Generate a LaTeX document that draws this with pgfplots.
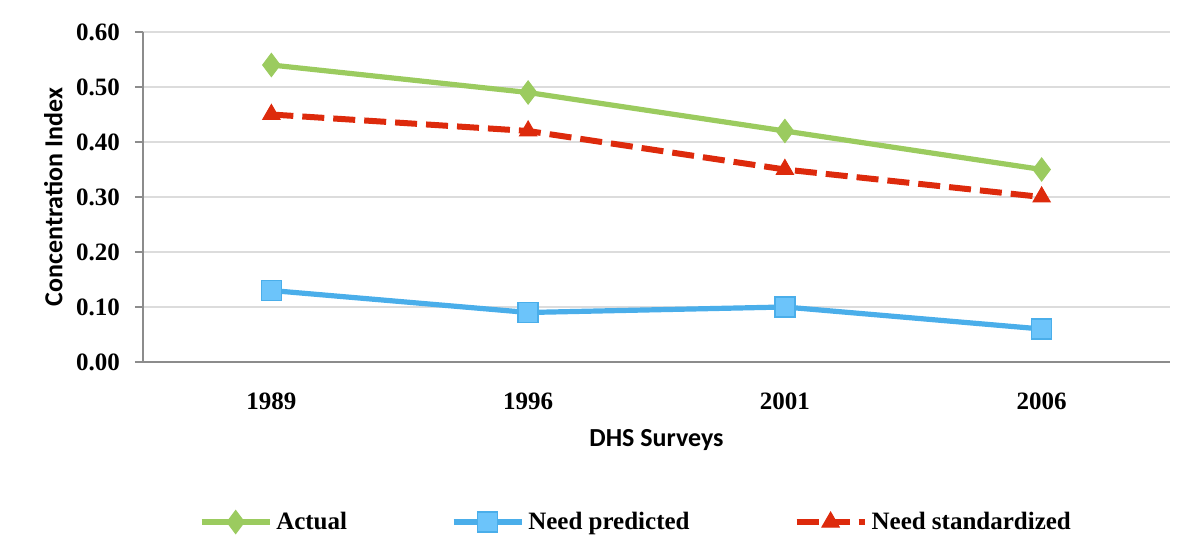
\documentclass[border=0pt]{standalone}
\usepackage{pgfplots}
\pgfplotsset{compat=1.18}
\usepackage{fontspec}
\setmainfont{Liberation Serif}
\newfontfamily\labfont{Carlito}
\definecolor{cgreen}{HTML}{9BCB5F}
\definecolor{cblue}{HTML}{4AAEEA}
\definecolor{cbluefill}{HTML}{6CC4FA}
\definecolor{cred}{HTML}{DD2A0C}
\definecolor{caxis}{HTML}{8C8C8C}
\definecolor{cgrid}{HTML}{DCDCDC}
\begin{document}
\begin{tikzpicture}
\begin{axis}[
  width=513.5pt, height=165pt, scale only axis,
  xmin=-0.5, xmax=3.5, ymin=0, ymax=0.6,
  xtick={0,1,2,3}, xticklabels={1989,1996,2001,2006},
  ytick={0,0.1,0.2,0.3,0.4,0.5,0.6},
  yticklabel style={/pgf/number format/fixed, /pgf/number format/fixed zerofill, /pgf/number format/precision=2, xshift=-4pt},
  /pgf/number format/assume math mode=true,
  ticklabel style={font=\fontsize{12.5}{14}\selectfont\bfseries},
  axis x line*=bottom, axis y line*=left,
  axis line style={caxis, line width=1.2pt, -},
  xtick style={draw=none},
  ytick style={caxis, line width=0.8pt},
  tick align=outside, major tick length=4pt,
  ymajorgrids, grid style={cgrid, line width=0.8pt},
  xticklabel style={yshift=-8pt},
  xlabel={\labfont\bfseries DHS Surveys},
  ylabel={\labfont\bfseries Concentration Index},
  xlabel style={font=\fontsize{13}{15}\selectfont, yshift=-3pt},
  ylabel style={font=\fontsize{13}{15}\selectfont, yshift=0pt},
  legend style={at={(0.481,-0.485)}, anchor=center, draw=none,
    font=\fontsize{12.5}{14}\selectfont\bfseries,
    /tikz/every even column/.append style={column sep=50pt}},
  legend columns=3,
  legend cell align=left,
  legend image code/.code={\draw[mark repeat=2, mark phase=2, #1] plot coordinates {(0pt,0pt) (17pt,0pt) (34pt,0pt)};},
]
\addplot[cgreen, line width=2.6pt, mark=diamond*, mark size=5.8pt,
  mark options={solid, fill=cgreen, draw=cgreen, line width=0.5pt}]
  coordinates {(0,0.54) (1,0.49) (2,0.42) (3,0.35)};
\addlegendentry{Actual}
\addplot[cblue, line width=2.6pt, mark=square*, mark size=5pt,
  mark options={solid, fill=cbluefill, draw=cblue, line width=0.8pt}]
  coordinates {(0,0.13) (1,0.09) (2,0.10) (3,0.06)};
\addlegendentry{Need predicted}
\addplot[cred, line width=3pt, dash pattern=on 11pt off 4.5pt, mark=triangle*, mark size=5pt,
  mark options={solid, fill=cred, draw=cred, line width=0.5pt}]
  coordinates {(0,0.45) (1,0.42) (2,0.35) (3,0.30)};
\addlegendentry{Need standardized}
\end{axis}
\path[use as bounding box] ([xshift=-71.5pt, yshift=-96pt]current axis.south west)
  rectangle ([xshift=15pt, yshift=16pt]current axis.north east);
\end{tikzpicture}
\end{document}
